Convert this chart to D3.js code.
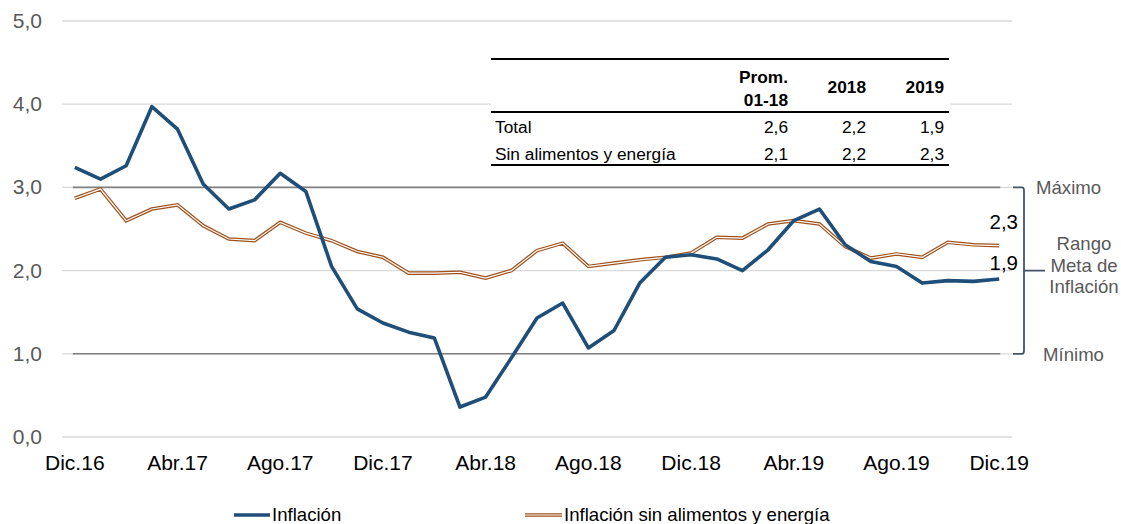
<!DOCTYPE html>
<html><head><meta charset="utf-8">
<script src="https://cdn.jsdelivr.net/npm/d3@7"></script>
<style>body{margin:0;background:#fff}svg{display:block;font-family:"Liberation Sans",Arial,sans-serif}</style>
</head><body><svg id="c" width="1121" height="524"></svg>
<script>
const months = ["Dic.16","Ene.17","Feb.17","Mar.17","Abr.17","May.17","Jun.17","Jul.17","Ago.17","Sep.17","Oct.17","Nov.17",
"Dic.17","Ene.18","Feb.18","Mar.18","Abr.18","May.18","Jun.18","Jul.18","Ago.18","Sep.18","Oct.18","Nov.18",
"Dic.18","Ene.19","Feb.19","Mar.19","Abr.19","May.19","Jun.19","Jul.19","Ago.19","Sep.19","Oct.19","Nov.19","Dic.19"];
const inflacion = [3.24,3.10,3.26,3.97,3.70,3.04,2.74,2.85,3.17,2.95,2.05,1.54,1.37,1.26,1.19,0.36,0.48,0.95,1.43,1.61,1.07,1.28,1.85,2.16,2.19,2.14,2.00,2.25,2.60,2.74,2.31,2.11,2.05,1.85,1.88,1.87,1.90];
const sae = [2.87,2.98,2.60,2.74,2.79,2.54,2.38,2.36,2.58,2.45,2.36,2.23,2.16,1.97,1.97,1.98,1.91,2.00,2.24,2.33,2.05,2.09,2.13,2.16,2.21,2.40,2.39,2.56,2.60,2.56,2.29,2.15,2.20,2.16,2.34,2.31,2.30];
const xTickLabels = ["Dic.16","Abr.17","Ago.17","Dic.17","Abr.18","Ago.18","Dic.18","Abr.19","Ago.19","Dic.19"];
const yTicks = [0,1,2,3,4,5];
const rangeLimits = [1,3];
const tableHeader = [["Prom.","01-18"],["2018"],["2019"]];
const tableRows = [["Total",2.6,2.2,1.9],["Sin alimentos y energía",2.1,2.2,2.3]];
const seriesNames = ["Inflación","Inflación sin alimentos y energía"];

const svg = d3.select("#c");
const blue = "#1f4e79", brown = "#a0501a";
const fmt = v => d3.format(".1f")(v).replace(".", ",");
const x = d3.scalePoint().domain(months).range([74.8, 999.2]);
const y = d3.scaleLinear().domain([0,5]).range([437,21]);
const X0 = 62, X1 = 1012;

// gridlines
svg.append("g").selectAll("line").data(yTicks).join("line")
  .attr("x1",X0).attr("x2",X1).attr("y1",d=>y(d)).attr("y2",d=>y(d))
  .attr("stroke","#d9d9d9").attr("stroke-width",1.3);
svg.append("g").selectAll("line").data(rangeLimits).join("line")
  .attr("x1",x(months[0])-2).attr("x2",x(months[months.length-1])+1).attr("y1",d=>y(d)).attr("y2",d=>y(d))
  .attr("stroke","#808080").attr("stroke-width",1.6);

// y axis labels
svg.append("g").selectAll("text").data(yTicks).join("text")
  .attr("x",42).attr("y",d=>y(d)+7).attr("text-anchor","end")
  .attr("font-size",21).attr("fill","#595959").text(d=>fmt(d));

// x axis labels
svg.append("g").selectAll("text").data(xTickLabels).join("text")
  .attr("x",d=>x(d)).attr("y",470).attr("text-anchor","middle")
  .attr("font-size",21).attr("fill","#000").text(d=>d);

// table
const tL = 491, tR = 949, fs = 17.3;
svg.append("rect").attr("x",tL).attr("y",56).attr("width",tR-tL+1).attr("height",112).attr("fill","#fff");
[59,112,165].forEach(yy=>svg.append("line").attr("x1",tL).attr("x2",tR).attr("y1",yy).attr("y2",yy).attr("stroke","#000").attr("stroke-width",2));
const colR = [788,866,944];
tableHeader.forEach((h,i)=>{
  const t = svg.append("text").attr("font-size",fs).attr("font-weight","bold").attr("text-anchor","end");
  if(h.length===2){
    t.append("tspan").attr("x",colR[i]).attr("y",83).text(h[0]);
    t.append("tspan").attr("x",colR[i]).attr("y",106).text(h[1]);
  } else t.attr("x",colR[i]).attr("y",93).text(h[0]);
});
tableRows.forEach((r,j)=>{
  const yy = 133 + j*27;
  svg.append("text").attr("x",495).attr("y",yy).attr("font-size",fs).text(r[0]);
  r.slice(1).forEach((v,i)=>svg.append("text").attr("x",colR[i]).attr("y",yy).attr("font-size",fs).attr("text-anchor","end").text(fmt(v)));
});

// lines
const line = d3.line().x((d,i)=>x(months[i])).y(d=>y(d));
svg.append("path").datum(sae).attr("d",line).attr("fill","none").attr("stroke",brown).attr("stroke-width",3.6).attr("stroke-linejoin","miter");
svg.append("path").datum(sae).attr("d",line).attr("fill","none").attr("stroke","#fff").attr("stroke-width",1.2).attr("stroke-linejoin","miter");
svg.append("path").datum(inflacion).attr("d",line).attr("fill","none").attr("stroke",blue).attr("stroke-width",3.6).attr("stroke-linejoin","round");

// end labels
svg.append("text").attr("x",1018).attr("y",y(sae[sae.length-1])-17).attr("text-anchor","end").attr("font-size",20.5).text(fmt(sae[sae.length-1]));
svg.append("text").attr("x",1018).attr("y",y(inflacion[inflacion.length-1])-9).attr("text-anchor","end").attr("font-size",20.5).text(fmt(inflacion[inflacion.length-1]));

// bracket
const bx = 1024, yTop = y(rangeLimits[1]), yBot = y(rangeLimits[0]), yMid = (yTop+yBot)/2;
svg.append("path").attr("d",`M${bx-11},${yTop}L${bx-2},${yTop}Q${bx},${yTop} ${bx},${yTop+3}L${bx},${yBot-3}Q${bx},${yBot} ${bx-2},${yBot}L${bx-11},${yBot}M${bx},${yMid}L${bx+21},${yMid}`)
  .attr("fill","none").attr("stroke","#44546a").attr("stroke-width",1.8);
svg.append("text").attr("x",1036).attr("y",yTop+7).attr("font-size",18.6).attr("fill","#595959").text("Máximo");
svg.append("text").attr("x",1043).attr("y",yBot+7).attr("font-size",18.6).attr("fill","#595959").text("Mínimo");
const rt = svg.append("text").attr("font-size",18.6).attr("fill","#595959").attr("text-anchor","middle");
["Rango","Meta de","Inflación"].forEach((s,i)=>rt.append("tspan").attr("x",1084).attr("y",250+i*21.5).text(s));

// legend
const lg = svg.append("g");
lg.append("line").attr("x1",234).attr("x2",270).attr("y1",515).attr("y2",515).attr("stroke",blue).attr("stroke-width",3.6);
lg.append("text").attr("x",272).attr("y",521).attr("font-size",18.6).text(seriesNames[0]);
lg.append("line").attr("x1",525).attr("x2",562).attr("y1",515).attr("y2",515).attr("stroke",brown).attr("stroke-width",3.6);
lg.append("line").attr("x1",525).attr("x2",562).attr("y1",515).attr("y2",515).attr("stroke","#fff").attr("stroke-width",1.2);
lg.append("text").attr("x",564).attr("y",521).attr("font-size",18.6).text(seriesNames[1]);
</script></body></html>
